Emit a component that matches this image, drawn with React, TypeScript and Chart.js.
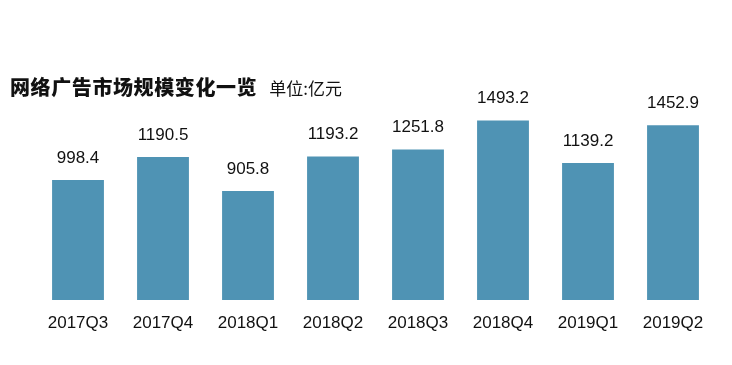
import React, { useEffect, useRef } from "react";
import { Chart, registerables } from "chart.js";

Chart.register(...registerables);

const categories = ["2017Q3", "2017Q4", "2018Q1", "2018Q2", "2018Q3", "2018Q4", "2019Q1", "2019Q2"];
const values = [998.4, 1190.5, 905.8, 1193.2, 1251.8, 1493.2, 1139.2, 1452.9];
const valueLabels = ["998.4", "1190.5", "905.8", "1193.2", "1251.8", "1493.2", "1139.2", "1452.9"];

const FONT = "'Liberation Sans', Arial, Helvetica, sans-serif";

const valueLabelPlugin = {
  id: "valueLabels",
  afterDatasetsDraw(chart: any) {
    const ctx = chart.ctx;
    const meta = chart.getDatasetMeta(0);
    ctx.save();
    ctx.font = `17px ${FONT}`;
    ctx.fillStyle = "#111";
    ctx.textAlign = "center";
    ctx.textBaseline = "middle";
    meta.data.forEach((bar: any, i: number) => {
      ctx.fillText(valueLabels[i], bar.x, bar.y - 22);
    });
    ctx.restore();
  },
};

export default function App() {
  const ref = useRef<HTMLCanvasElement | null>(null);
  useEffect(() => {
    if (!ref.current) return;
    const chart = new Chart(ref.current, {
      type: "bar",
      data: {
        labels: categories,
        datasets: [
          {
            data: values,
            backgroundColor: "#4f93b4",
            borderWidth: 0,
            barPercentage: 0.61,
            categoryPercentage: 1,
          },
        ],
      },
      options: {
        animation: false,
        responsive: false,
        maintainAspectRatio: false,
        layout: { padding: { left: 35.5, right: 16.5, top: 59.6, bottom: 26.6 } },
        plugins: { legend: { display: false }, tooltip: { enabled: false }, title: { display: false } },
        scales: {
          x: {
            grid: { display: false },
            border: { display: false },
            ticks: { padding: 5, color: "#111", font: { family: FONT, size: 17 } },
          },
          y: { display: false, min: 0, max: 2000 },
        },
      },
      plugins: [valueLabelPlugin],
    });
    return () => chart.destroy();
  }, []);
  return (
    <div style={{ position: "absolute", left: 0, top: 0, width: 732, height: 365, background: "#fff" }}>
      <canvas ref={ref} width={732} height={365} style={{ position: "absolute", left: 0, top: 0 }} />
      <div
        style={{
          position: "absolute",
          left: 10,
          top: 73,
          whiteSpace: "nowrap",
          fontFamily: "'Noto Sans CJK SC', sans-serif",
          color: "#111",
          lineHeight: "28px",
        }}
      >
        <span style={{ fontSize: 20, fontWeight: 900, letterSpacing: 0.6 }}>网络广告市场规模变化一览</span>
        <span style={{ fontSize: 17, marginLeft: 12 }}>单位:亿元</span>
      </div>
    </div>
  );
}
